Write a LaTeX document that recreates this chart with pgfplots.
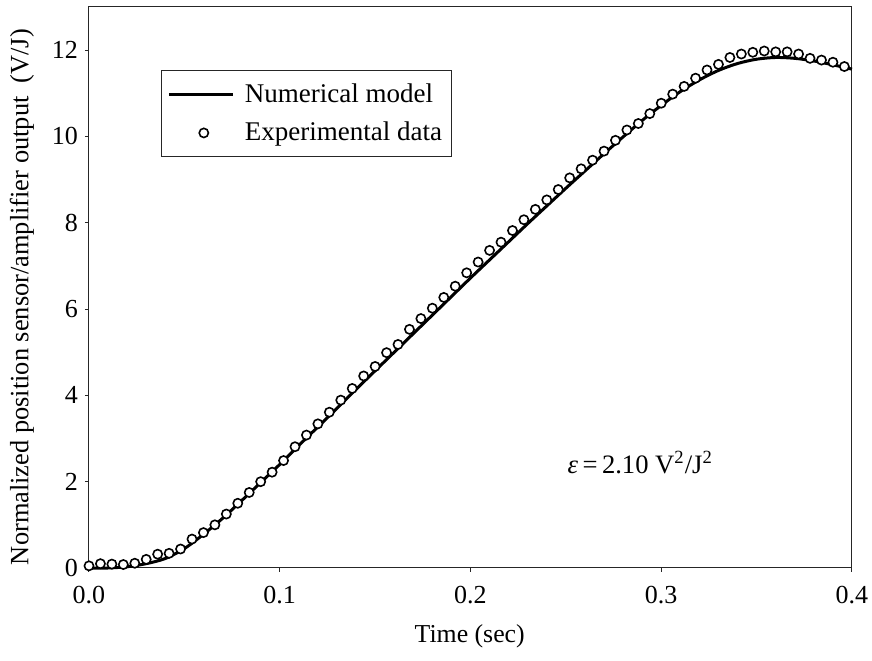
\documentclass[border=0pt]{standalone}
\usepackage{fontspec}
\setmainfont{Liberation Serif}
\usepackage{pgfplots}
\pgfplotsset{compat=1.18}
\begin{document}
\begin{tikzpicture}
\begin{axis}[
  scale only axis,
  width=381.5pt, height=280.5pt,
  xmin=0, xmax=0.4, ymin=0, ymax=13,
  xtick={0,0.1,0.2,0.3,0.4},
  ytick={0,2,4,6,8,10,12},
  tick pos=left,
  tick align=outside,
  major tick length=2pt,
  axis line style={black!85, line width=0.5pt},
  tick style={black!85, line width=0.5pt},
  /pgf/number format/assume math mode=true,
  xticklabel style={/pgf/number format/fixed, /pgf/number format/fixed zerofill, /pgf/number format/precision=1, font=\fontsize{13}{15}\selectfont, yshift=-3.5pt},
  yticklabel style={font=\fontsize{13}{15}\selectfont},
  scaled x ticks=false,
  xlabel={Time (sec)},
  ylabel={Normalized position sensor/amplifier output\ \ (V/J)},
  xlabel style={font=\fontsize{12.9}{15}\selectfont, at={(axis description cs:0.499,-0.121)}, anchor=center},
  ylabel style={font=\fontsize{13.2}{15}\selectfont, at={(axis description cs:-0.088,0.483)}, anchor=center},
  legend style={at={(0.094,0.888)}, anchor=north west, draw=black!85, line width=0.5pt, font=\fontsize{13.5}{15}\selectfont, inner xsep=3pt, inner ysep=4.5pt, row sep=4.5pt, cells={anchor=west}},
  clip=false,
]
\addplot[black, line width=1.5pt, smooth, legend image code/.code={\path[draw=none] (0pt,0pt) -- (36pt,0pt); \draw[black, line width=1.6pt] (0pt,0pt) -- (32pt,0pt);}] coordinates {
(0.000,0.00) (0.010,0.00) (0.020,0.03) (0.030,0.10) (0.040,0.22) (0.050,0.45)
(0.060,0.78) (0.070,1.15) (0.080,1.56) (0.090,1.98) (0.100,2.40) (0.110,2.84)
(0.120,3.27) (0.130,3.70) (0.140,4.14) (0.150,4.57) (0.160,5.00) (0.170,5.43)
(0.180,5.86) (0.190,6.29) (0.200,6.72) (0.210,7.14) (0.220,7.56) (0.230,7.98)
(0.240,8.39) (0.250,8.80) (0.260,9.20) (0.270,9.60) (0.280,9.99) (0.290,10.37)
(0.300,10.72) (0.310,11.04) (0.320,11.31) (0.330,11.53) (0.340,11.69) (0.350,11.79)
(0.360,11.83) (0.370,11.81) (0.380,11.75) (0.390,11.66) (0.400,11.56)
};
\addlegendentry{Numerical model}
\addplot[only marks, mark=*, mark size=2.3pt, mark options={draw=black, fill=white, line width=0.8pt},
  legend image code/.code={\path[draw=none] (0pt,0pt) -- (36pt,0pt); \path[draw=none] plot[mark=*, mark size=2.3pt, mark options={draw=black, fill=white, line width=0.8pt}] coordinates {(17.5pt,0pt)};}] coordinates {
(0.000,0.05) (0.006,0.10) (0.012,0.09) (0.018,0.08) (0.024,0.11) (0.030,0.20)
(0.036,0.32) (0.042,0.34) (0.048,0.44) (0.054,0.67) (0.060,0.82) (0.066,1.00)
(0.072,1.25) (0.078,1.50) (0.084,1.75) (0.090,2.00) (0.096,2.22) (0.102,2.49)
(0.108,2.81) (0.114,3.08) (0.120,3.34) (0.126,3.61) (0.132,3.89) (0.138,4.16)
(0.144,4.45) (0.150,4.67) (0.156,4.99) (0.162,5.18) (0.168,5.53) (0.174,5.78)
(0.180,6.02) (0.186,6.27) (0.192,6.53) (0.198,6.84) (0.204,7.09) (0.210,7.36)
(0.216,7.55) (0.222,7.82) (0.228,8.07) (0.234,8.31) (0.240,8.53) (0.246,8.77)
(0.252,9.04) (0.258,9.25) (0.264,9.45) (0.270,9.66) (0.276,9.91) (0.282,10.15)
(0.288,10.30) (0.294,10.53) (0.300,10.77) (0.306,10.98) (0.312,11.16) (0.318,11.35)
(0.324,11.54) (0.330,11.67) (0.336,11.83) (0.342,11.91) (0.348,11.95) (0.354,11.98)
(0.360,11.96) (0.366,11.96) (0.372,11.91) (0.378,11.81) (0.384,11.77) (0.390,11.72)
(0.396,11.62)
};
\addlegendentry{Experimental data}
\node[anchor=center, font=\fontsize{13.3}{15}\selectfont] at (axis cs:0.289,2.45) {\textit{ε}\,=\,2.10 V\textsuperscript{2}/J\textsuperscript{2}};
\end{axis}
\pgfresetboundingbox
\path[use as bounding box] ([xshift=-44.5pt,yshift=-46.5pt]current axis.south west) rectangle ([xshift=10pt,yshift=3.5pt]current axis.north east);
\end{tikzpicture}
\end{document}
